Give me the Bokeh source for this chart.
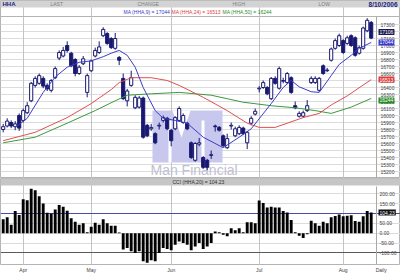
from bokeh.plotting import figure
from bokeh.models import (Range1d, FixedTicker, Label, BoxAnnotation, PolyAnnotation,
                          ColumnDataSource, Grid, NumeralTickFormatter)
from bokeh.layouts import column
from bokeh.embed import file_html
from bokeh.resources import INLINE

FONT = "Liberation Sans"
NAVY = "#181870"

# ---------------- data ----------------
opens = [15800, 15850, 15900, 15840, 16000, 15930, 16040, 16210, 16430, 16460,
         16530, 16430, 16360, 16540, 16820, 16850, 17000, 16890, 16800, 16600,
         16740, 16330, 16640, 16850, 16900, 17140, 17170, 17100, 16960, 16830,
         16530, 16210, 16430, 16110, 16120, 16250, 15860, 15810, 15740, 15850,
         15930, 15960, 15790, 15810, 15930, 15900, 15890, 15610, 15360, 15590,
         15400, 15360, 15430, 15850, 15830, 15710, 15540, 15850, 15710, 15740,
         15820, 15610, 15890, 16020, 16380, 16400, 16400, 16240, 16530, 16390,
         16490, 16470, 16540, 16140, 15990, 15990, 16070, 16470, 16470, 16360,
         16710, 16640, 16790, 16960, 17000, 17070, 17030, 17140, 17110, 16890,
         16960, 17210, 17330]
closes = [15840, 15920, 15850, 15880, 15820, 16070, 16140, 16460, 16530, 16570,
          16420, 16380, 16500, 16670, 16900, 16930, 16930, 16710, 16600, 16690,
          16810, 16570, 16780, 16930, 16980, 17230, 17030, 16970, 17100, 16790,
          16240, 16350, 16540, 16260, 16250, 15690, 15710, 15830, 15610, 15860,
          15970, 15810, 15640, 15970, 16100, 16000, 15810, 15400, 15600, 15610,
          15260, 15260, 15440, 15840, 15790, 15570, 15670, 15860, 15810, 15830,
          15740, 15760, 15960, 16060, 16390, 16470, 16310, 16530, 16460, 16670,
          16500, 16600, 16330, 16110, 16030, 16040, 16140, 16530, 16530, 16530,
          16600, 16650, 16950, 17070, 17140, 16900, 17110, 17000, 16860, 16970,
          17250, 17360, 17106]
highs = [15880, 15960, 15930, 15920, 16030, 16100, 16190, 16480, 16560, 16600,
         16560, 16460, 16520, 16700, 16930, 16980, 17060, 16910, 16820, 16720,
         16850, 16600, 16800, 16970, 17060, 17260, 17190, 17120, 17180, 16850,
         16600, 16380, 16640, 16290, 16280, 16270, 15880, 15880, 15760, 15900,
         16000, 15980, 15810, 15990, 16130, 16030, 15910, 15630, 15620, 15680,
         15420, 15380, 15500, 15870, 15850, 15730, 15740, 15900, 15840, 15860,
         15840, 15780, 15990, 16100, 16420, 16500, 16420, 16550, 16560, 16700,
         16540, 16620, 16560, 16200, 16060, 16070, 16220, 16560, 16560, 16550,
         16730, 16680, 16970, 17100, 17170, 17090, 17140, 17160, 17130, 17000,
         17270, 17390, 17350]
lows = [15760, 15830, 15820, 15790, 15780, 15900, 16020, 16190, 16400, 16440,
        16390, 16350, 16330, 16520, 16790, 16830, 16900, 16690, 16560, 16580,
        16720, 16260, 16620, 16830, 16880, 17120, 17010, 16950, 16940, 16720,
        16220, 16130, 16410, 16090, 16100, 15670, 15690, 15780, 15590, 15800,
        15900, 15790, 15560, 15790, 15910, 15880, 15790, 15380, 15340, 15560,
        15240, 15220, 15380, 15770, 15770, 15550, 15520, 15800, 15690, 15720,
        15720, 15520, 15860, 16000, 16330, 16380, 16290, 16220, 16440, 16370,
        16460, 16450, 16310, 16090, 15970, 15970, 16050, 16450, 16450, 16340,
        16580, 16620, 16770, 16940, 16980, 16880, 17010, 16980, 16840, 16870,
        16940, 17190, 17090]

cci = [70, 80, 42, 112, 92, 172, 167, 225, 217, 187,
       150, 103, 100, 120, 142, 133, 113, 75, 58, 42,
       50, 5, 33, 53, 42, 70, 50, 37, 37, 3,
       -83, -75, -92, -100, -92, -142, -150, -137, -142, -100,
       -75, -80, -87, -58, -42, -50, -58, -87, -67, -50,
       -80, -67, -50, 8, 5, -8, -15, 25, 15, 25,
       5, 55, 55, 50, 165, 153, 130, 133, 130, 130,
       112, 105, 67, 5, -13, -25, -5, 63, 50, 37,
       58, 50, 80, 87, 95, 85, 88, 90, 62, 58,
       85, 112, 104.23]

ma9_idx = [3, 6, 10, 13, 16, 19, 22, 25, 27, 29, 31, 33, 35, 38, 40, 43, 46, 50,
           55, 59, 62, 67, 70, 72, 74, 77, 79, 82, 84, 87, 89, 92]
ma9 = [15830, 15960, 16330, 16550, 16690, 16760, 16780, 16840, 16890, 16930, 16860,
       16690, 16400, 16070, 15960, 15930, 15890, 15690, 15540, 15690, 15810, 16170,
       16400, 16500, 16410, 16340, 16330, 16570, 16730, 16860, 16960, 17044]
ma24_idx = [0, 8, 16, 22, 27, 29, 32, 37, 41, 44, 50, 56, 61, 64, 68, 71, 75, 79,
            82, 86, 92]
ma24 = [15640, 15760, 15970, 16170, 16370, 16470, 16540, 16540, 16500, 16430, 16260,
        16070, 15890, 15830, 15830, 15890, 15970, 16030, 16150, 16280, 16513]
ma50_idx = [0, 8, 16, 23, 28, 31, 37, 44, 52, 60, 67, 73, 78, 82, 87, 92]
ma50 = [15610, 15690, 15890, 16070, 16210, 16290, 16310, 16330, 16290, 16190, 16140,
        16110, 16070, 16030, 16120, 16244]

month_idx = [5, 22, 42, 64, 85]
month_labels = ["Apr", "May", "Jun", "Jul", "Aug"]
price_ticks = [15200, 15300, 15400, 15500, 15600, 15700, 15800, 15900, 16000, 16100,
               16200, 16300, 16400, 16500, 16600, 16700, 16800, 16900, 17000, 17100,
               17200, 17300]
cci_ticks = [-100, -50, 0, 50, 150, 200]
cci_levels = [100, -100]

last_close = 17106
ma9_last, ma24_last, ma50_last = 17044, 16513, 16244
cci_last = 104.23

# ---------------- geometry of the panels ----------------
W = 400
X0, X1 = -0.675, 99.325      # full canvas width in bar units (4 px per bar)
XB = 93.33                   # plot / axis boundary
P_LO, P_HI, P_TOP = 15100, 17414, 17643    # price: frame bottom, chart top, header top
C_LO, C_HI, C_TOP = -158.5, 236, 276.5     # cci: frame bottom, chart top, band top
PH, CH = 178, 97


def style_axis(ax):
    ax.major_label_text_font_size = "5px"
    ax.major_label_text_font = FONT
    ax.major_label_text_color = "#404040"
    ax.major_tick_out = 0
    ax.major_tick_in = 0
    ax.minor_tick_out = 0
    ax.minor_tick_in = 0


def lab(f, x, y, t, color, size="5px", style="normal", align="left"):
    f.add_layout(Label(x=x, y=y, x_units="screen", y_units="screen", text=t,
                       text_color=color, text_font_size=size, text_font_style=style,
                       text_align=align, text_baseline="middle", text_font=FONT,
                       level="overlay"))


def vbox(fig, yv, t, bg, yoff=0):
    fig.add_layout(Label(x=378, y=yv, x_units="screen", y_units="data", text=t,
                         text_color="white", text_font_size="5px", text_font=FONT,
                         text_baseline="middle", background_fill_color=bg,
                         background_fill_alpha=1, y_offset=yoff, padding=1,
                         level="overlay"))


def sbox(fig, l, r, b, t, color, level="underlay"):
    fig.add_layout(BoxAnnotation(left=l, right=r, bottom=b, top=t, left_units="screen",
                                 right_units="screen", bottom_units="screen",
                                 top_units="screen", fill_color=color, fill_alpha=1,
                                 line_color=None, level=level))


# ---------------- price panel (with header) ----------------
p = figure(width=W, height=PH, x_range=Range1d(X0, X1), y_range=Range1d(P_LO, P_TOP),
           output_backend="svg", toolbar_location=None, title=None,
           x_axis_location=None, y_axis_location="right", min_border=0,
           outline_line_color="#b4b4b4", background_fill_color="white",
           border_fill_color="white")
p.grid.visible = False
p.add_layout(Grid(dimension=1, ticker=FixedTicker(ticks=price_ticks),
                  grid_line_color="#dcdcdc", bounds=(X0, XB)))
p.add_layout(Grid(dimension=0, ticker=FixedTicker(ticks=month_idx),
                  grid_line_color="#c4c4c4", bounds=(P_LO, P_HI)))

ya = p.yaxis[0]
ya.ticker = FixedTicker(ticks=price_ticks)
ya.fixed_location = XB
ya.bounds = (P_LO, P_HI)
ya.axis_line_color = "#a8a8a8"
ya.major_label_standoff = 4
style_axis(ya)

# header band and legend line
sbox(p, 0, W, PH - 7, PH, "#d3d3d3")
sbox(p, 0, W, PH - 16.5, PH - 15.5, "#b4b4b4")
lab(p, 2, PH - 3.5, "HHA", "#1a237e", size="6px", style="bold")
lab(p, 50, PH - 3.5, "LAST", "#808080")
lab(p, 137, PH - 3.5, "CHANGE", "#808080")
lab(p, 232, PH - 3.5, "HIGH", "#808080")
lab(p, 318, PH - 3.5, "LOW", "#808080")
lab(p, 397, PH - 3.5, "8/10/2006", "#1a237e", size="6.5px", style="bold", align="right")
lab(p, 123, PH - 11, f"MA (HHA,9) = {ma9_last}", "#3a3ac8")
lab(p, 171, PH - 11, f"MA (HHA,24) = {ma24_last}", "#e04040")
lab(p, 222, PH - 11, f"MA (HHA,50) = {ma50_last}", "#2e8b2e")

# watermark (Man Financial logo)
sbox(p, 152, 222, 16, 68, "#c8c8ee")
for xs, ys in (([172, 181, 190], [68, 41, 68]),
               ([168, 171, 171, 168], [16, 16, 58, 58]),
               ([201, 204, 204, 201], [16, 16, 58, 58])):
    p.add_layout(PolyAnnotation(xs=xs, ys=ys, xs_units="screen", ys_units="screen",
                                fill_color="white", fill_alpha=1, line_color=None,
                                level="underlay"))
p.add_layout(Label(x=150, y=1, x_units="screen", y_units="screen", text="Man Financial",
                   text_color="#c0c0d2", text_font_size="14px", text_font=FONT,
                   text_baseline="bottom", level="underlay"))

n = len(closes)
idx = list(range(n))
src = ColumnDataSource(dict(x=idx, o=opens, h=highs, l=lows, c=closes))
up = [i for i in idx if closes[i] >= opens[i]]
dn = [i for i in idx if closes[i] < opens[i]]
src_up = ColumnDataSource(dict(x=up, o=[opens[i] for i in up], c=[closes[i] for i in up]))
src_dn = ColumnDataSource(dict(x=dn, o=[opens[i] for i in dn], c=[closes[i] for i in dn]))

p.segment(x0="x", y0="h", x1="x", y1="l", source=src, line_color=NAVY, line_width=1)
p.vbar(x="x", width=0.78, top="c", bottom="o", source=src_up, fill_color="white",
       line_color=NAVY, line_width=1)
p.vbar(x="x", width=0.78, top="o", bottom="c", source=src_dn, fill_color=NAVY,
       line_color=NAVY, line_width=1)

p.line(ma50_idx, ma50, line_color="#3c9a3c", line_width=1)
p.line(ma24_idx, ma24, line_color="#e05050", line_width=1)
p.line(ma9_idx, ma9, line_color="#3c3cc8", line_width=1)

vbox(p, last_close, f"{last_close}", "#1a1a50", yoff=6)
vbox(p, ma9_last, f"{ma9_last}", "#3a3ad0")
vbox(p, ma24_last, f"{ma24_last}", "#e03a3a")
vbox(p, ma50_last, f"{ma50_last}", "#228b22", yoff=-2)

# ---------------- CCI panel (with its title band) ----------------
c = figure(width=W, height=CH, x_range=p.x_range, y_range=Range1d(C_LO, C_TOP),
           output_backend="svg", toolbar_location=None, title=None,
           y_axis_location="right", x_axis_location="below", min_border=0,
           min_border_bottom=10, outline_line_color="#b4b4b4",
           background_fill_color="white", border_fill_color="white")
c.grid.visible = False
c.add_layout(Grid(dimension=1, ticker=FixedTicker(ticks=cci_ticks),
                  grid_line_color="#dcdcdc", bounds=(X0, XB)))
c.add_layout(Grid(dimension=0, ticker=FixedTicker(ticks=month_idx),
                  grid_line_color="#c4c4c4", bounds=(C_LO, C_HI)))
c.add_layout(Grid(dimension=1, ticker=FixedTicker(ticks=cci_levels[:1]),
                  grid_line_color="#4a4aa8", bounds=(X0, XB)))
c.add_layout(Grid(dimension=1, ticker=FixedTicker(ticks=cci_levels[1:]),
                  grid_line_color="#5a5a5a", bounds=(X0, XB)))

cy = c.yaxis[0]
cy.ticker = FixedTicker(ticks=cci_ticks)
cy.formatter = NumeralTickFormatter(format="0.00")
cy.fixed_location = XB
cy.bounds = (C_LO, C_HI)
cy.axis_line_color = "#a8a8a8"
cy.major_label_standoff = 3
style_axis(cy)

cx = c.xaxis[0]
cx.ticker = FixedTicker(ticks=month_idx + [94.5])
cx.major_label_overrides = {**{m: t for m, t in zip(month_idx, month_labels)}, 94.5: "Daily"}
cx.axis_line_color = None
cx.major_label_standoff = 2
style_axis(cx)

sbox(c, 0, W, CH - 10 - 8, CH - 10, "#c6c6c6")
lab(c, 172, CH - 10 - 4, f"CCI (HHA,20) = {cci_last}", "#303030")

c.vbar(x=idx, top=cci, bottom=0, width=0.72, fill_color="black", line_color=None)
vbox(c, cci_last, f"{cci_last}", "#101010")

layout = column(p, c, spacing=0)
open("out.html", "w").write(file_html(layout, INLINE))
